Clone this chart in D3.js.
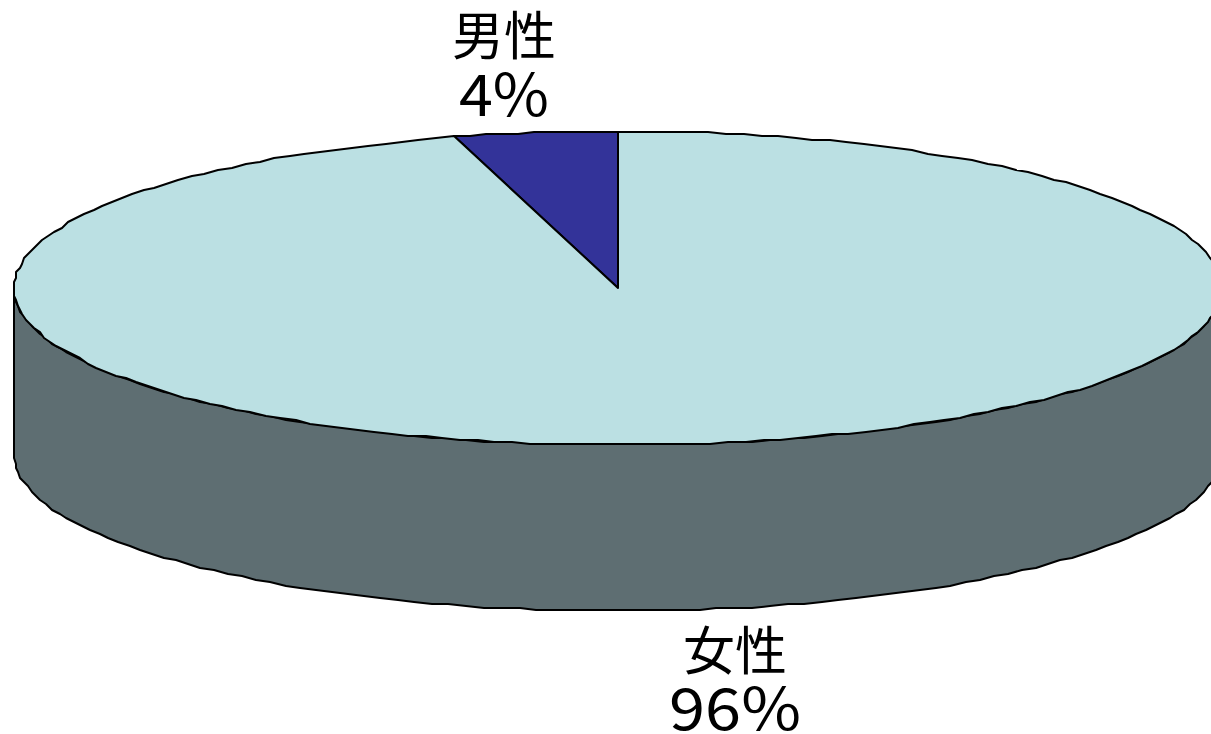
<!DOCTYPE html>
<html><head><meta charset="utf-8">
<script src="https://cdn.jsdelivr.net/npm/d3@7"></script>
<style>html,body{margin:0;padding:0;background:#fff;overflow:hidden}svg{display:block}</style>
</head><body><svg id="c" width="1211" height="734"></svg>
<script>
const categories = ["男性", "女性"];
const values = [4.4, 95.6];
const percentLabels = ["4%", "96%"];
const topColors = ["#333399", "#bbe0e3"];
const sideColor = "#5e6e72";

const cx = 618, cy = 288, rx = 604, ry = 157, depth = 166;
const svg = d3.select("#c");
// pie angles from the library; slices run counter-clockwise from 12 o'clock
const pie = d3.pie().sort(null).value(d => d).startAngle(0).endAngle(-2 * Math.PI)(values);
// the reference outline is a coarse polygon, so edge points are snapped to a small grid
const snap = v => Math.round(v / 2) * 2;
const px = a => snap(cx + rx * Math.sin(a)), py = a => snap(cy - ry * Math.cos(a));
const step = 0.03;
const line = d3.line();
const stroke = sel => sel.attr("stroke", "#000").attr("stroke-width", 2).attr("stroke-linejoin", "round");

// side wall: front half of the ellipse extruded downward
const n0 = Math.ceil(Math.PI / step);
const front = d3.range(n0 + 1).map(k => Math.PI * 1.5 - Math.PI * k / n0);
const sidePts = front.map(a => [px(a), py(a)])
  .concat(front.slice().reverse().map(a => [px(a), py(a) + depth]));
svg.append("path").attr("d", line(sidePts) + "Z").attr("fill", sideColor).call(stroke);

svg.selectAll("path.slice").data(pie).enter().append("path").attr("class", "slice")
  .attr("d", s => {
    const n = Math.max(2, Math.ceil(Math.abs(s.endAngle - s.startAngle) / step));
    const pts = d3.range(n + 1).map(k => {
      const a = s.startAngle + (s.endAngle - s.startAngle) * k / n;
      return [px(a), py(a)];
    });
    return line([[cx, cy], ...pts]) + "Z";
  })
  .attr("fill", (s, i) => topColors[i]).call(stroke);

const labelPos = [{x: 504, y1: 55, y2: 116, w: 90}, {x: 735, y1: 670, y2: 730, w: 132}];
const font = '"Noto Sans CJK JP","Noto Sans",sans-serif';
categories.forEach((c, i) => {
  const g = svg.append("g").attr("text-anchor", "middle").attr("fill", "#000").style("font-family", font);
  g.append("text").attr("x", labelPos[i].x).attr("y", labelPos[i].y1).attr("font-size", 52).text(c);
  g.append("text").attr("x", labelPos[i].x).attr("y", labelPos[i].y2).attr("font-size", 58)
    .attr("textLength", labelPos[i].w).attr("lengthAdjust", "spacingAndGlyphs").text(percentLabels[i]);
});
</script></body></html>
